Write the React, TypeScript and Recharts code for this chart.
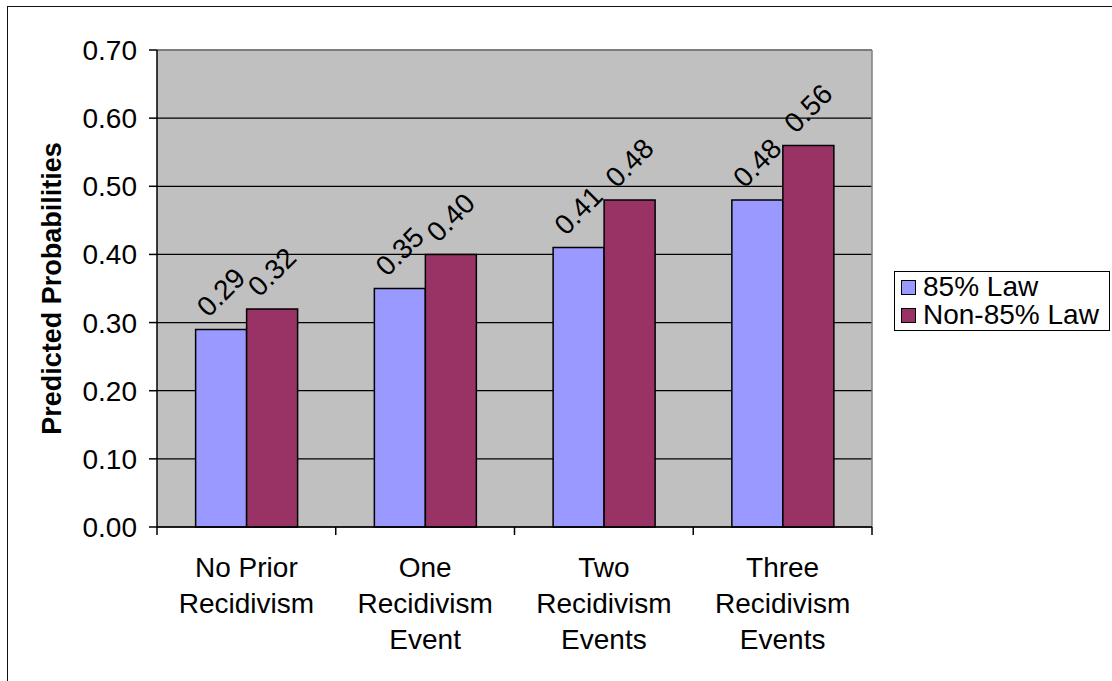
import { BarChart, Bar, XAxis, YAxis, CartesianGrid, Legend, LabelList } from 'recharts';

const categories = [
  'No Prior\nRecidivism',
  'One\nRecidivism\nEvent',
  'Two\nRecidivism\nEvents',
  'Three\nRecidivism\nEvents',
];
const law85 = [0.29, 0.35, 0.41, 0.48];
const nonLaw85 = [0.32, 0.40, 0.48, 0.56];
const seriesNames = ['85% Law', 'Non-85% Law'];
const yTicks = [0, 0.1, 0.2, 0.3, 0.4, 0.5, 0.6, 0.7];
const yTitle = 'Predicted Probabilities';

const colors = ['#9999FF', '#993366'];
const FONT = '"Liberation Sans", Arial, sans-serif';

const W = 1112;
const H = 681;
const PLOT_LEFT = 157;
const PLOT_RIGHT = 872;
const PLOT_TOP = 50;
const PLOT_BOTTOM = 527;

const data = categories.map((c, i) => ({ name: c, law85: law85[i], nonLaw85: nonLaw85[i] }));

function XTick(props: any) {
  const { x, y, payload, index } = props;
  const band = (PLOT_RIGHT - PLOT_LEFT) / categories.length;
  const lines = String(payload.value).split('\n');
  return (
    <g>
      <line x1={x - band / 2} x2={x - band / 2} y1={y} y2={y + 8} stroke="#000" strokeWidth={1.5} />
      {index === categories.length - 1 && (
        <line x1={x + band / 2} x2={x + band / 2} y1={y} y2={y + 8} stroke="#000" strokeWidth={1.5} />
      )}
      <text x={x} y={y + 50} textAnchor="middle" fontSize={28} fill="#000" fontFamily={FONT}>
        {lines.map((l, i) => (
          <tspan key={i} x={x} dy={i === 0 ? 0 : 36}>{l}</tspan>
        ))}
      </text>
    </g>
  );
}

function RotLabel(props: any) {
  const { x, y, width, value } = props;
  const cx = x + width / 2;
  const cy = y - 37;
  return (
    <text
      x={cx}
      y={cy}
      transform={`rotate(-45 ${cx} ${cy})`}
      textAnchor="middle"
      dominantBaseline="central"
      fontSize={28}
      fill="#000"
      fontFamily={FONT}
    >
      {Number(value).toFixed(2)}
    </text>
  );
}

function LegendBox() {
  return (
    <div style={{ border: '1.5px solid #000', background: '#fff', width: 214, padding: '1px 0', fontFamily: FONT, fontSize: 28, color: '#000' }}>
      {seriesNames.map((n, i) => (
        <div key={n} style={{ display: 'flex', alignItems: 'center', height: 28, paddingLeft: 6, whiteSpace: 'nowrap' }}>
          <span style={{ display: 'inline-block', width: 13, height: 13, border: '1px solid #000', background: colors[i], marginRight: 7 }} />
          {n}
        </div>
      ))}
    </div>
  );
}

export default function App() {
  return (
    <div style={{ position: 'fixed', left: 0, top: 0, width: W, height: H, background: '#fff' }}>
      <div style={{ position: 'absolute', left: 7, top: 6, width: 1200, height: 800, borderTop: '1.5px solid #111', borderLeft: '1.5px solid #111' }} />
      <div style={{ position: 'absolute', left: 0, top: 0 }}>
        <BarChart
          width={W}
          height={H}
          data={data}
          margin={{ top: PLOT_TOP, right: W - PLOT_RIGHT, bottom: H - PLOT_BOTTOM - 100, left: 30 }}
          barCategoryGap="21.6%"
          barGap={0}
        >
          <CartesianGrid vertical={false} stroke="#000" strokeWidth={1.2} fill="#C0C0C0" />
          <CartesianGrid
            horizontal={true}
            vertical={true}
            stroke="#808080"
            strokeWidth={1.5}
            horizontalCoordinatesGenerator={() => [PLOT_TOP]}
            verticalCoordinatesGenerator={() => [PLOT_RIGHT]}
          />
          <XAxis
            dataKey="name"
            interval={0}
            height={100}
            tickSize={0}
            tickMargin={0}
            tickLine={false}
            axisLine={{ stroke: '#000', strokeWidth: 1.5 }}
            tick={<XTick />}
          />
          <YAxis
            width={127}
            domain={[0, 0.7]}
            ticks={yTicks}
            tickFormatter={(v: number) => v.toFixed(2)}
            tick={{ fill: '#000', fontSize: 28, fontFamily: FONT }}
            tickSize={8}
            tickMargin={12}
            tickLine={{ stroke: '#000', strokeWidth: 1.5 }}
            axisLine={{ stroke: '#000', strokeWidth: 1.5 }}
            label={{
              value: yTitle,
              angle: -90,
              position: 'insideLeft',
              offset: 21,
              style: { textAnchor: 'middle', fontSize: 27, fontWeight: 'bold', fill: '#000', fontFamily: FONT },
            }}
          />
          <Legend
            layout="vertical"
            align="center"
            verticalAlign="middle"
            wrapperStyle={{ left: 894, top: 271, width: 216 }}
            content={<LegendBox />}
          />
          <Bar dataKey="law85" name={seriesNames[0]} fill={colors[0]} stroke="#000" strokeWidth={1.5} isAnimationActive={false}>
            <LabelList dataKey="law85" content={<RotLabel />} />
          </Bar>
          <Bar dataKey="nonLaw85" name={seriesNames[1]} fill={colors[1]} stroke="#000" strokeWidth={1.5} isAnimationActive={false}>
            <LabelList dataKey="nonLaw85" content={<RotLabel />} />
          </Bar>
        </BarChart>
      </div>
    </div>
  );
}
